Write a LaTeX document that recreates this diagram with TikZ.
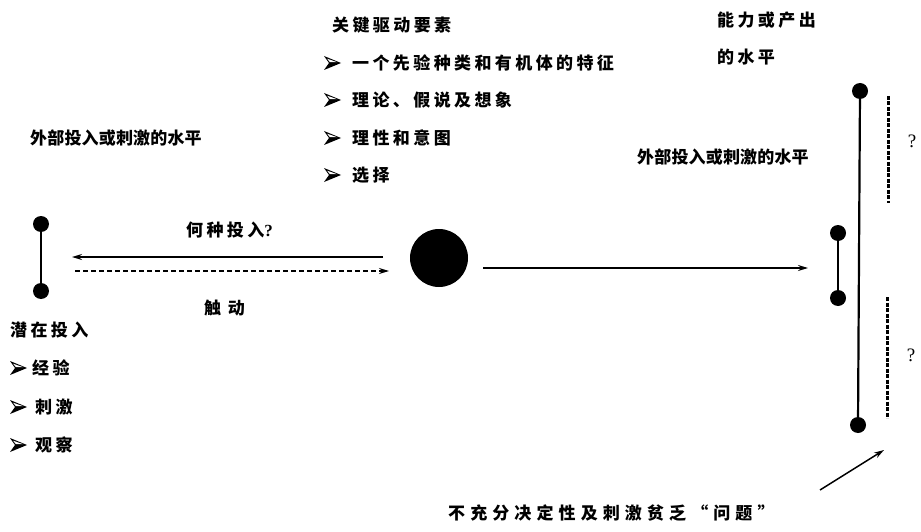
\documentclass[tikz,border=0pt]{standalone}
\usepackage{fontspec}
\usetikzlibrary{arrows.meta}
\newfontfamily\cjk{Noto Sans CJK SC}
\newfontfamily\qserif{Liberation Serif}
\tikzset{
  dot/.style={circle,fill=black,inner sep=0pt,minimum size=16pt},
  bigdot/.style={circle,fill=black,inner sep=0pt,minimum size=58pt},
  bar/.style={line width=2.2pt},
  qdash/.style={line width=3pt,dash pattern=on 4pt off 1.5pt},
  arr/.style={line width=1.5pt,-{Stealth[length=10pt,width=6pt]}},
  darr/.style={line width=1.5pt,dash pattern=on 5pt off 3pt,-{Stealth[length=10pt,width=6pt]}},
  lbl/.style={inner sep=0pt,anchor=west,font=\cjk\bfseries\fontsize{17}{20}\selectfont},
  sp0/.style={font=\cjk\bfseries\fontsize{17}{20}\selectfont\addfontfeature{LetterSpace=1}},
  sp20/.style={font=\cjk\bfseries\fontsize{17}{20}\selectfont\addfontfeature{LetterSpace=20}},
  sp30/.style={font=\cjk\bfseries\fontsize{17}{20}\selectfont\addfontfeature{LetterSpace=30}},
  sp40/.style={font=\cjk\bfseries\fontsize{17}{20}\selectfont\addfontfeature{LetterSpace=40}},
  qm/.style={inner sep=0pt,font=\qserif\fontsize{19}{20}\selectfont},
  bullet/.pic={
    \fill[black] (0,-7) -- (17,0) -- (0,7) -- (5,0) -- cycle;
    \fill[white] (3.2,-4.2) -- (13,-0.9) -- (5.8,-0.9) -- cycle;
  }
}
\begin{document}
\begin{tikzpicture}[x=1pt,y=-1pt]
\useasboundingbox[fill=white] (0,0) rectangle (921,532);

% left bar
\node[dot] (L1) at (41,224) {};
\node[dot] (L2) at (41,291) {};
\draw[bar] (L1) -- (L2);

% central circle
\node[bigdot] (C) at (439,258) {};

% left arrows
\coordinate (a1s) at (383,257);
\coordinate (a1e) at (72,257);
\draw[arr] (a1s) -- (a1e);
\coordinate (a2s) at (75,271);
\coordinate (a2e) at (389,271);
\draw[darr] (a2s) -- (a2e);

% right arrow
\coordinate (a3s) at (483,268);
\coordinate (a3e) at (808,268);
\draw[arr] (a3s) -- (a3e);

% small right bar
\node[dot] (S1) at (838,233) {};
\node[dot] (S2) at (838,298) {};
\draw[bar] (S1) -- (S2);

% big right bar
\node[dot] (B1) at (860,91) {};
\node[dot] (B2) at (858,425) {};
\draw[bar] (B1) -- (B2);

% dashed question lines
\coordinate (d1a) at (888,96);
\coordinate (d1b) at (888,203);
\draw[qdash] (d1a) -- (d1b);
\coordinate (d2a) at (887,297);
\coordinate (d2b) at (887,418);
\draw[qdash] (d2a) -- (d2b);
\node[qm] (q1) at (912,141) {?};
\node[qm] (q2) at (911,355) {?};

% bottom arrow
\coordinate (a4s) at (820,490);
\coordinate (a4e) at (884,450);
\draw[arr] (a4s) -- (a4e);

% texts
\node[lbl,sp20] (kd) at (332,25) {关键驱动要素};
\pic at (324,63) {bullet};
\node[lbl,sp20] (k1) at (352,63) {一个先验种类和有机体的特征};
\pic at (324,100) {bullet};
\node[lbl,sp20] (k2) at (352,100) {理论、假说及想象};
\pic at (324,138) {bullet};
\node[lbl,sp20] (k3) at (352,138) {理性和意图};
\pic at (324,175) {bullet};
\node[lbl,sp20] (k4) at (352,175) {选择};

\node[lbl,sp20] (nl1) at (717,20) {能力或产出};
\node[lbl,sp20] (nl2) at (717,57) {的水平};

\node[lbl,sp0] (extL) at (30,138) {外部投入或刺激的水平};
\node[lbl,sp0] (extR) at (637,157) {外部投入或刺激的水平};

\node[lbl,sp20] (hz) at (186,230) {何种投入{\qserif ?}};
\node[lbl,sp40] (cd) at (204,308) {触动};

\node[lbl,sp20] (qz) at (10,330) {潜在投入};
\pic at (10,368) {bullet};
\node[lbl,sp20] (p1) at (32,368) {经验};
\pic at (10,407) {bullet};
\node[lbl,sp20] (p2) at (35,407) {刺激};
\pic at (10,445) {bullet};
\node[lbl,sp20] (p3) at (35,445) {观察};

\node[lbl,sp30] (bt) at (448,513) {不充分决定性及刺激贫乏“问题”};
\end{tikzpicture}
\end{document}
